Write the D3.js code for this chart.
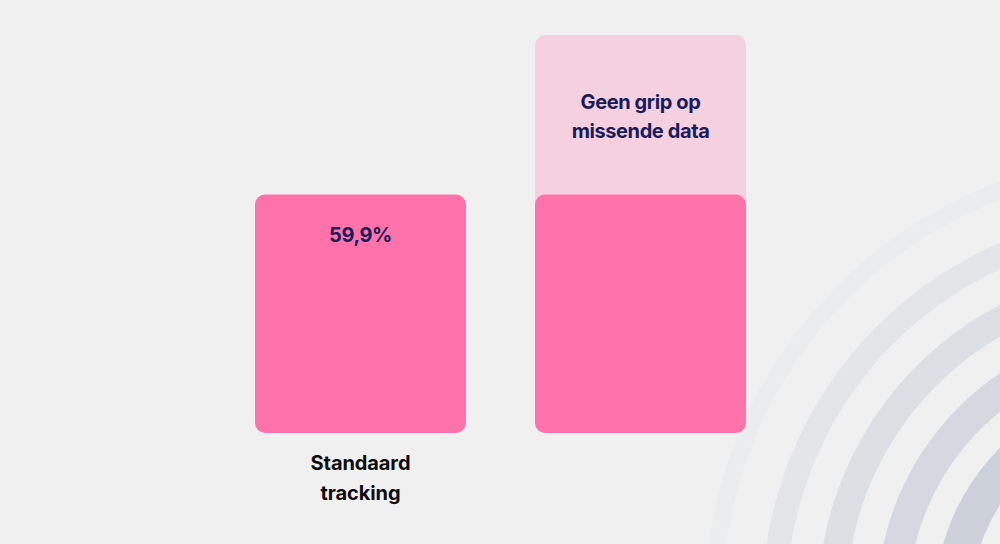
<!DOCTYPE html>
<html lang="nl">
<head>
<meta charset="UTF-8">
<title>Standaard tracking</title>
<script src="https://d3js.org/d3.v7.min.js"></script>
<style>
    html, body { margin: 0; padding: 0; background: #f0f0f0; }
    svg { display: block; }
    text { font-family: Inter, "Noto Sans", sans-serif; font-weight: 700; }
    .value { fill: #161c5c; font-size: 20px; letter-spacing: -0.4px; }
    .cat { fill: #0d0d0d; font-size: 20px; letter-spacing: -0.1px; }
</style>
</head>
<body>
<svg width="1000" height="544"></svg>
<script>
    // data
    const categories = ["standaard", "missend"];
    const categoryLabels = [["Standaard", "tracking"], []];
    const measured = [59.9, 59.9];
    const missing = [0, 40.1];
    const valueLabels = ["59,9%", ""];
    const missingLabels = [[], ["Geen grip op", "missende data"]];

    const svg = d3.select("svg");
    const W = 1000, H = 544;

    svg.append("rect").attr("width", W).attr("height", H).attr("fill", "#f0f0f0");

    // background rings, bottom right
    const ringCenter = [1155, 604];
    const rings = [
        {outer: 450, width: 17, color: "#ebecee"},
        {outer: 393, width: 24, color: "#e3e5e9"},
        {outer: 337, width: 28, color: "#dcdfe4"},
        {outer: 278, width: 31, color: "#d5d8df"},
        {outer: 220, width: 36, color: "#cdd1da"}
    ];
    const ringArc = d3.arc().startAngle(0).endAngle(2 * Math.PI);
    svg.append("g")
        .attr("transform", `translate(${ringCenter[0]},${ringCenter[1]})`)
        .selectAll("path")
        .data(rings)
        .join("path")
        .attr("d", d => ringArc({innerRadius: d.outer - d.width, outerRadius: d.outer}))
        .attr("fill", d => d.color);

    const x = d3.scaleBand()
        .domain(categories)
        .range([255, 746])
        .paddingInner(69 / 280)
        .paddingOuter(0);

    const y = d3.scaleLinear().domain([0, 100]).range([433, 35]);

    const rows = categories.map((c, i) => ({
        key: c, i,
        measured: measured[i],
        missing: missing[i],
        label: valueLabels[i],
        missLabel: missingLabels[i],
        cat: categoryLabels[i]
    }));

    const g = svg.append("g");

    // light part (missing data), stacked on top of measured
    g.selectAll("rect.miss")
        .data(rows.filter(d => d.missing > 0))
        .join("rect")
        .attr("class", "miss")
        .attr("x", d => x(d.key))
        .attr("width", x.bandwidth())
        .attr("y", d => y(d.measured + d.missing))
        .attr("height", d => y(0) - y(d.measured + d.missing))
        .attr("rx", 10)
        .attr("fill", "#f5d0df");

    g.selectAll("rect.meas")
        .data(rows)
        .join("rect")
        .attr("class", "meas")
        .attr("x", d => x(d.key))
        .attr("width", x.bandwidth())
        .attr("y", d => y(d.measured))
        .attr("height", d => y(0) - y(d.measured))
        .attr("rx", 10)
        .attr("fill", "#ff73aa");

    g.selectAll("text.value")
        .data(rows.filter(d => d.label))
        .join("text")
        .attr("class", "value")
        .attr("text-anchor", "middle")
        .attr("x", d => x(d.key) + x.bandwidth() / 2)
        .attr("y", d => y(d.measured) + 47)
        .text(d => d.label);

    rows.forEach(d => {
        const cx = x(d.key) + x.bandwidth() / 2;
        const mid = (y(d.measured) + y(d.measured + d.missing)) / 2;
        const n = d.missLabel.length;
        g.selectAll(null)
            .data(d.missLabel)
            .join("text")
            .attr("class", "value")
            .attr("text-anchor", "middle")
            .attr("x", cx)
            .attr("y", (t, j) => mid + (j - (n - 1) / 2) * 29 + 9)
            .text(t => t);

        g.selectAll(null)
            .data(d.cat)
            .join("text")
            .attr("class", "cat")
            .attr("text-anchor", "middle")
            .attr("x", cx)
            .attr("y", (t, j) => y(0) + 37 + j * 30)
            .text(t => t);
    });
</script>
</body>
</html>
